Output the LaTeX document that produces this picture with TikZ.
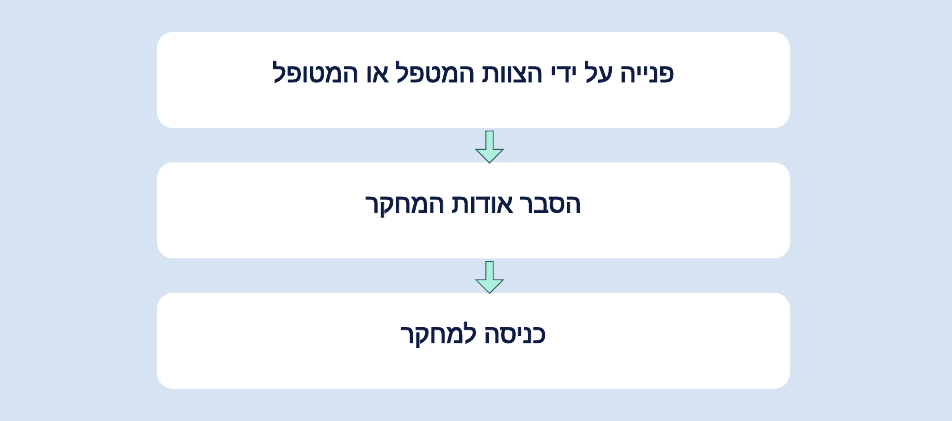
\documentclass[tikz,border=0pt]{standalone}
\usepackage{fontspec}
\newfontfamily\hebfont[Script=Hebrew,FakeBold=3]{Liberation Sans}
\TeXXeTstate=1
\usetikzlibrary{shapes,arrows,positioning}
\definecolor{bgblue}{HTML}{D6E3F3}
\definecolor{navytext}{HTML}{0E1C43}
\definecolor{mintfill}{HTML}{AEF0DD}
\definecolor{arrowline}{HTML}{2F5A5E}

\begin{document}
\begin{tikzpicture}[x=1pt, y=1pt, node distance=34pt,
          box/.style={rectangle, fill=white, minimum width=633pt, minimum height=96pt, rounded corners=16pt, text=navytext, text height=18pt, text depth=14pt, font=\hebfont\fontsize{25.5}{30}\selectfont},
          downarrow/.style={single arrow, draw=arrowline, fill=mintfill, line width=0.8pt, shape border rotate=270, inner sep=3.25pt, single arrow head extend=10pt, single arrow tip angle=90, minimum height=32pt, xshift=16pt}]

          \useasboundingbox (0,0) rectangle (952,-420);
          \fill[bgblue] (-5,5) rectangle (957,-425);

          \node[box] (contact) at (473.5,-80) {\beginR פנייה על ידי הצוות המטפל או המטופל\endR};
          \node[box, below=of contact] (explain) {\beginR הסבר אודות המחקר\endR};
          \node[box, below=of explain] (enter) {\beginR כניסה למחקר\endR};

          \path (contact) -- node[downarrow] (arrowone) {} (explain);
          \path (explain) -- node[downarrow] (arrowtwo) {} (enter);
        \end{tikzpicture}
\end{document}
